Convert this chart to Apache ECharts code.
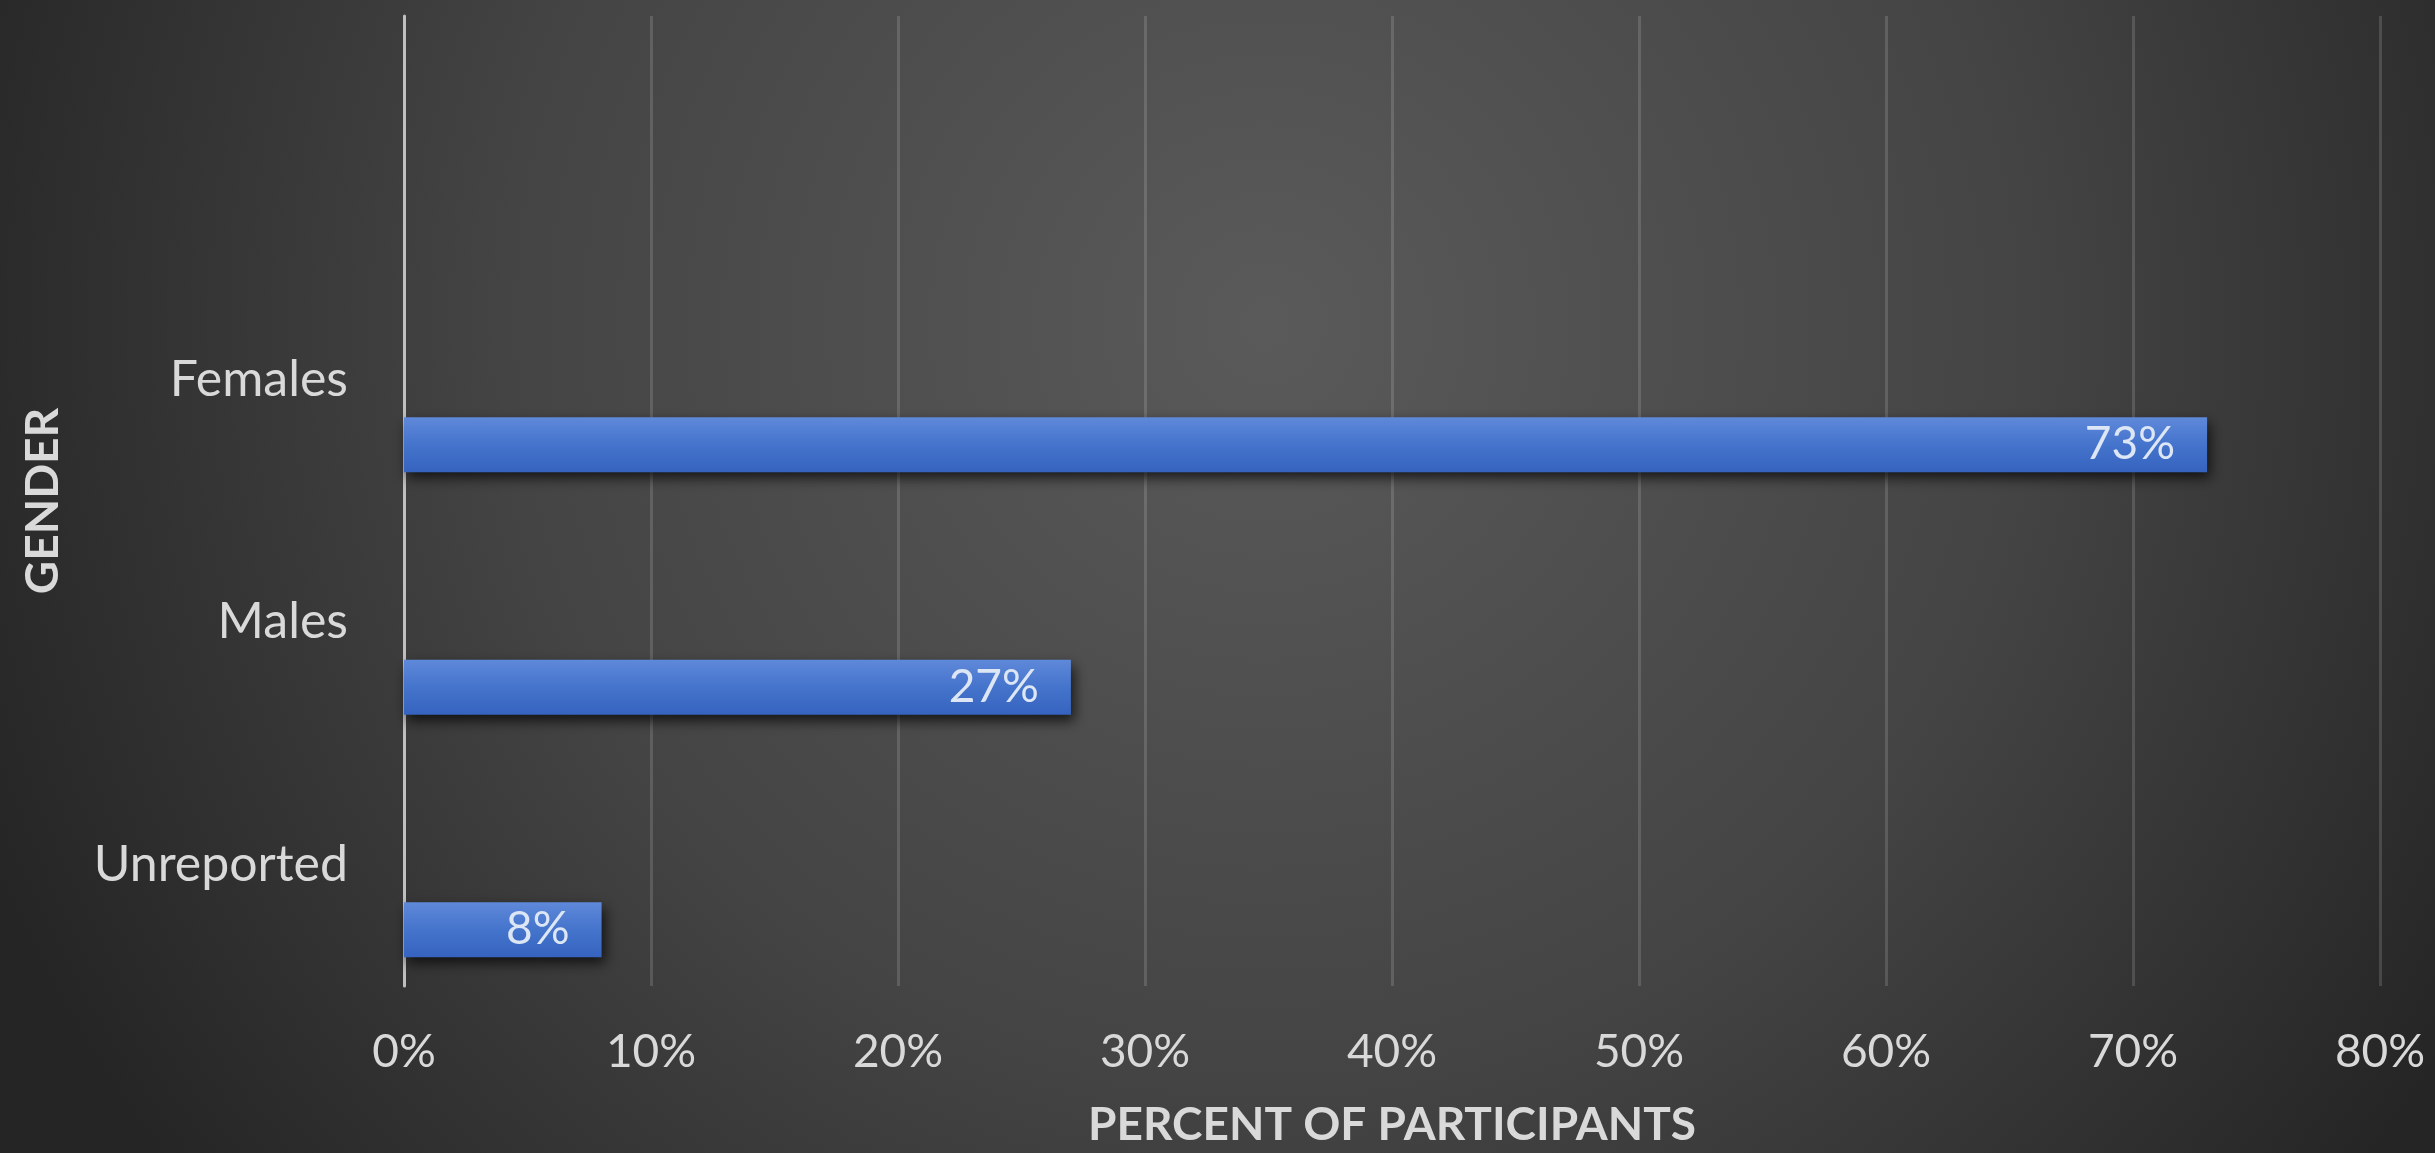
<!DOCTYPE html>
<html>
<head>
<meta charset="utf-8">
<script src="https://cdn.jsdelivr.net/npm/echarts@6/dist/echarts.min.js"></script>
<style>
html,body{margin:0;padding:0;background:#2a2a2a;}
#chart{width:2435px;height:1153px;}
</style>
</head>
<body>
<div id="chart"></div>
<script>
// Categories from bottom to top (top category is blank in the source)
const categories = ['Unreported', 'Males', 'Females', ''];
const percentValues = [8, 27, 73, null];
const xTickMin = 0;
const xTickMax = 80;
const xTickInterval = 10;
const xAxisTitle = 'PERCENT OF PARTICIPANTS';
const yAxisTitle = 'GENDER';

const FONT = 'Lato';
const TEXT = '#d9d9d9';

const chart = echarts.init(document.getElementById('chart'), null, {renderer: 'canvas'});
chart.setOption({
  animation: false,
  backgroundColor: {
    type: 'radial', x: 0.52, y: 0.28, r: 1.2,
    colorStops: [
      {offset: 0, color: '#5a5a5a'},
      {offset: 0.55, color: '#444444'},
      {offset: 1, color: '#252525'}
    ]
  },
  grid: {left: 404, right: 55, top: 16, bottom: 167, containLabel: false},
  xAxis: {
    type: 'value',
    min: xTickMin, max: xTickMax, interval: xTickInterval,
    axisLine: {show: false},
    axisTick: {show: false},
    splitLine: {show: true, lineStyle: {color: 'rgba(255,255,255,0.14)', width: 3}},
    axisLabel: {
      formatter: '{value}%', color: TEXT, fontFamily: FONT, fontSize: 46, margin: 43
    },
    name: xAxisTitle,
    nameLocation: 'middle',
    nameGap: 116,
    nameTextStyle: {color: TEXT, fontFamily: FONT, fontWeight: 'bold', fontSize: 46}
  },
  yAxis: {
    type: 'category',
    data: categories,
    axisLine: {show: true, lineStyle: {color: '#bfbfbf', width: 3}},
    axisTick: {show: false},
    splitLine: {show: false},
    axisLabel: {color: TEXT, fontFamily: FONT, fontSize: 50, margin: 56},
    name: yAxisTitle,
    nameLocation: 'middle',
    nameRotate: 90,
    nameGap: 338,
    nameTextStyle: {color: TEXT, fontFamily: FONT, fontWeight: 'bold', fontSize: 46}
  },
  series: [
    {
      type: 'bar',
      name: 'spacer',
      data: categories.map(() => null),
      barWidth: 55,
      barGap: '136%',
      silent: true
    },
    {
      type: 'bar',
      name: 'Percent',
      data: percentValues,
      barWidth: 55,
      barGap: '136%',
      itemStyle: {
        color: {
          type: 'linear', x: 0, y: 0, x2: 0, y2: 1,
          colorStops: [
            {offset: 0, color: '#5f89da'},
            {offset: 0.5, color: '#4574cc'},
            {offset: 1, color: '#3563bf'}
          ]
        },
        shadowColor: 'rgba(0,0,0,0.7)',
        shadowBlur: 12,
        shadowOffsetX: 3,
        shadowOffsetY: 6
      },
      label: {
        show: true,
        position: 'insideRight',
        distance: 32,
        formatter: (p) => p.value + '%',
        color: '#dce6f5',
        fontFamily: FONT,
        fontSize: 46
      }
    }
  ]
});
</script>
</body>
</html>
